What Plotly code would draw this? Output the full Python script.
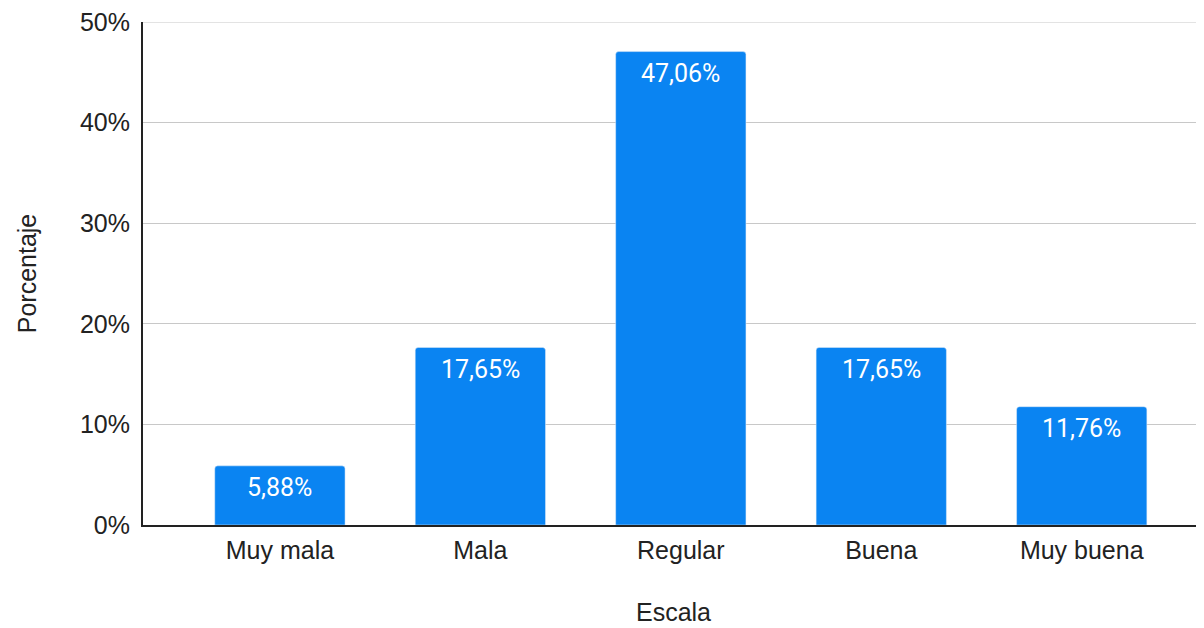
import plotly.graph_objects as go

# Datos de la gráfica
categorias = ["Muy mala", "Mala", "Regular", "Buena", "Muy buena"]
porcentajes = [5.88, 17.65, 47.06, 17.65, 11.76]
ticks_y = [0, 10, 20, 30, 40, 50]

AZUL = "#0a84f2"
GRIS = "#c8c8c8"
FUENTE = "Liberation Sans, Arial, sans-serif"

fig = go.Figure()
fig.add_trace(go.Bar(x=categorias, y=porcentajes, marker_color=AZUL,
                     marker_cornerradius=3, hoverinfo="skip"))

# Etiquetas dentro de la barra, cerca del borde superior
for c, v in zip(categorias, porcentajes):
    fig.add_annotation(x=c, y=v, yshift=-22, showarrow=False,
                       text=f"{v:.2f}%".replace(".", ","),
                       font=dict(family="Roboto, sans-serif", size=25,
                                 color="white"))

# Línea de la cuadrícula superior (en el borde del área se recorta)
fig.add_shape(type="line", xref="paper", x0=0, x1=1, yref="y",
              y0=ticks_y[-1], y1=ticks_y[-1], line=dict(color=GRIS, width=1),
              layer="below")

fig.update_xaxes(range=[-0.683, 4.61], showgrid=False, showline=True,
                 linecolor="#222", linewidth=2, ticks="",
                 tickfont=dict(family=FUENTE, size=25, color="#222"),
                 ticklabelstandoff=2,
                 title=dict(text="Escala", standoff=40,
                            font=dict(family=FUENTE, size=25, color="#222")))
fig.update_yaxes(range=[0, 50], tickvals=ticks_y,
                 ticktext=[f"{t}%" for t in ticks_y],
                 showgrid=True, ticklabeloverflow="allow",
                 gridcolor=GRIS, gridwidth=1, showline=True,
                 linecolor="#222", linewidth=2, zeroline=False,
                 tickfont=dict(family=FUENTE, size=25, color="#222"),
                 ticklabelstandoff=6,
                 title=dict(text="Porcentaje", standoff=36,
                            font=dict(family=FUENTE, size=25, color="#222")))
fig.update_layout(width=1196, height=620, bargap=0.35, showlegend=False,
                  separators=",.", plot_bgcolor="white", paper_bgcolor="white",
                  margin=dict(l=135, r=0, t=14, b=103))

fig.write_html("out.html")
